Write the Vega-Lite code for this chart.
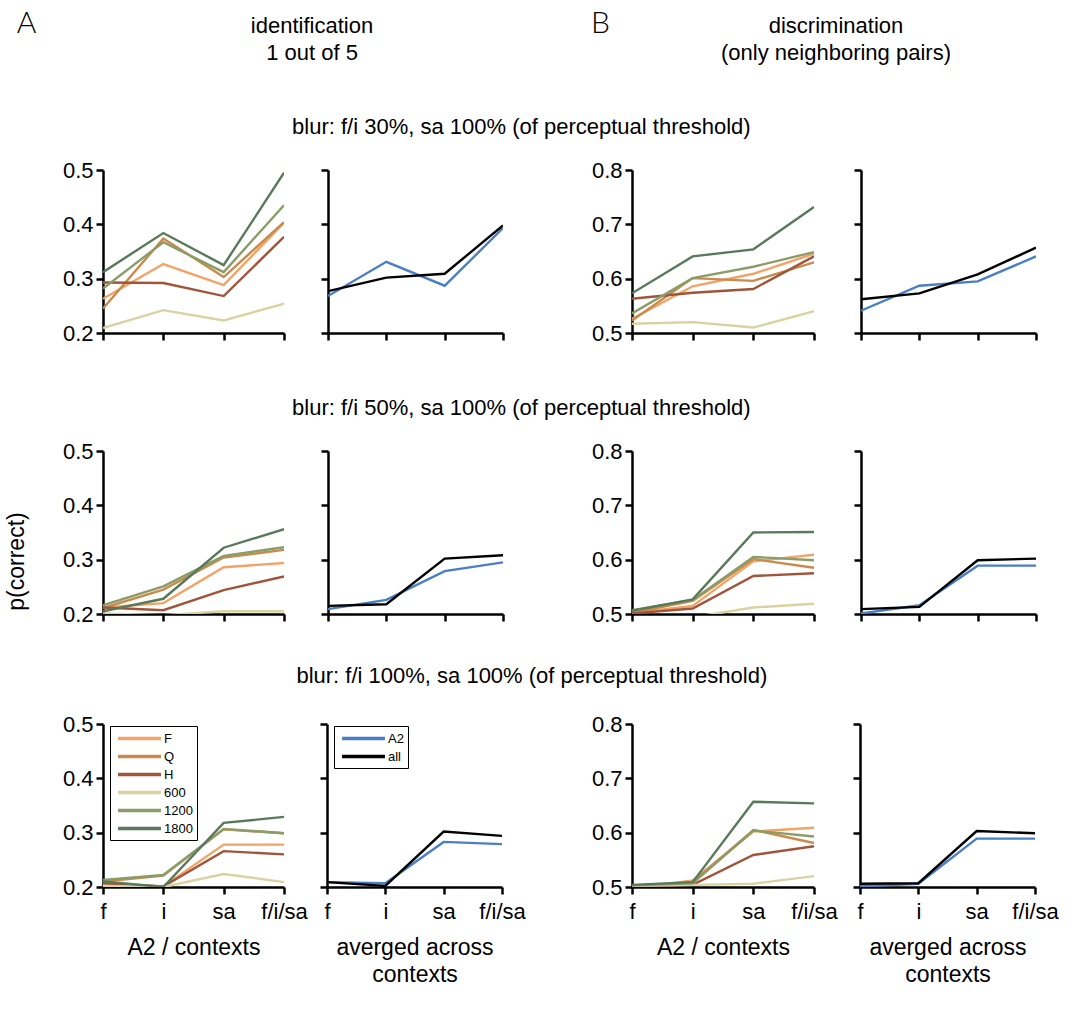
{
"$schema":"https://vega.github.io/schema/vega-lite/v6.json",
"background":"white",
"padding":{"left":5,"top":6,"right":5,"bottom":5},
"config":{
 "font":"Liberation Sans",
 "view":{"stroke":null},
 "axis":{"domainColor":"#000","domainWidth":2.5,"tickColor":"#000","tickWidth":2.5,"tickSize":7,"labelFontSize":22,"labelColor":"#000","labelPadding":3,"labelAngle":0,"titleFontSize":23,"titleFontWeight":"normal","titleColor":"#000","titleLineHeight":27,"grid":false,"labelOverlap":false,"labelFlush":false,"labelBound":false},
 "title":{"fontSize":22,"fontWeight":"normal","color":"#000","anchor":"middle","offset":20},
 "legend":{"strokeColor":"#000","fillColor":"#fff","padding":4,"symbolType":"M-3.3,0H3.3","symbolSize":169,"symbolStrokeWidth":3.5,"symbolOffset":17,"labelOffset":16,"labelFontSize":13,"labelColor":"#000","rowPadding":2,"title":null}
},
"datasets":{
"id30c":[
{"s":"F","x":"f","p":0.263},{"s":"F","x":"i","p":0.327},{"s":"F","x":"sa","p":0.288},{"s":"F","x":"f/i/sa","p":0.403},
{"s":"Q","x":"f","p":0.245},{"s":"Q","x":"i","p":0.374},{"s":"Q","x":"sa","p":0.303},{"s":"Q","x":"f/i/sa","p":0.404},
{"s":"H","x":"f","p":0.293},{"s":"H","x":"i","p":0.292},{"s":"H","x":"sa","p":0.268},{"s":"H","x":"f/i/sa","p":0.377},
{"s":"600","x":"f","p":0.209},{"s":"600","x":"i","p":0.242},{"s":"600","x":"sa","p":0.223},{"s":"600","x":"f/i/sa","p":0.254},
{"s":"1200","x":"f","p":0.282},{"s":"1200","x":"i","p":0.367},{"s":"1200","x":"sa","p":0.312},{"s":"1200","x":"f/i/sa","p":0.435},
{"s":"1800","x":"f","p":0.312},{"s":"1800","x":"i","p":0.384},{"s":"1800","x":"sa","p":0.325},{"s":"1800","x":"f/i/sa","p":0.495}],
"id30a":[
{"s":"A2","x":"f","p":0.268},{"s":"A2","x":"i","p":0.331},{"s":"A2","x":"sa","p":0.287},{"s":"A2","x":"f/i/sa","p":0.393},
{"s":"all","x":"f","p":0.277},{"s":"all","x":"i","p":0.302},{"s":"all","x":"sa","p":0.309},{"s":"all","x":"f/i/sa","p":0.398}],
"di30c":[
{"s":"F","x":"f","p":0.526},{"s":"F","x":"i","p":0.586},{"s":"F","x":"sa","p":0.609},{"s":"F","x":"f/i/sa","p":0.646},
{"s":"Q","x":"f","p":0.523},{"s":"Q","x":"i","p":0.601},{"s":"Q","x":"sa","p":0.596},{"s":"Q","x":"f/i/sa","p":0.630},
{"s":"H","x":"f","p":0.563},{"s":"H","x":"i","p":0.574},{"s":"H","x":"sa","p":0.581},{"s":"H","x":"f/i/sa","p":0.641},
{"s":"600","x":"f","p":0.517},{"s":"600","x":"i","p":0.520},{"s":"600","x":"sa","p":0.510},{"s":"600","x":"f/i/sa","p":0.540},
{"s":"1200","x":"f","p":0.536},{"s":"1200","x":"i","p":0.601},{"s":"1200","x":"sa","p":0.622},{"s":"1200","x":"f/i/sa","p":0.649},
{"s":"1800","x":"f","p":0.573},{"s":"1800","x":"i","p":0.641},{"s":"1800","x":"sa","p":0.654},{"s":"1800","x":"f/i/sa","p":0.732}],
"di30a":[
{"s":"A2","x":"f","p":0.541},{"s":"A2","x":"i","p":0.587},{"s":"A2","x":"sa","p":0.595},{"s":"A2","x":"f/i/sa","p":0.641},
{"s":"all","x":"f","p":0.562},{"s":"all","x":"i","p":0.573},{"s":"all","x":"sa","p":0.608},{"s":"all","x":"f/i/sa","p":0.657}],
"id50c":[
{"s":"F","x":"f","p":0.212},{"s":"F","x":"i","p":0.220},{"s":"F","x":"sa","p":0.286},{"s":"F","x":"f/i/sa","p":0.294},
{"s":"Q","x":"f","p":0.211},{"s":"Q","x":"i","p":0.245},{"s":"Q","x":"sa","p":0.304},{"s":"Q","x":"f/i/sa","p":0.318},
{"s":"H","x":"f","p":0.212},{"s":"H","x":"i","p":0.207},{"s":"H","x":"sa","p":0.244},{"s":"H","x":"f/i/sa","p":0.269},
{"s":"600","x":"f","p":0.201},{"s":"600","x":"i","p":0.198},{"s":"600","x":"sa","p":0.205},{"s":"600","x":"f/i/sa","p":0.205},
{"s":"1200","x":"f","p":0.216},{"s":"1200","x":"i","p":0.251},{"s":"1200","x":"sa","p":0.307},{"s":"1200","x":"f/i/sa","p":0.323},
{"s":"1800","x":"f","p":0.205},{"s":"1800","x":"i","p":0.228},{"s":"1800","x":"sa","p":0.322},{"s":"1800","x":"f/i/sa","p":0.356}],
"id50a":[
{"s":"A2","x":"f","p":0.209},{"s":"A2","x":"i","p":0.226},{"s":"A2","x":"sa","p":0.279},{"s":"A2","x":"f/i/sa","p":0.295},
{"s":"all","x":"f","p":0.215},{"s":"all","x":"i","p":0.218},{"s":"all","x":"sa","p":0.302},{"s":"all","x":"f/i/sa","p":0.308}],
"di50c":[
{"s":"F","x":"f","p":0.502},{"s":"F","x":"i","p":0.515},{"s":"F","x":"sa","p":0.597},{"s":"F","x":"f/i/sa","p":0.609},
{"s":"Q","x":"f","p":0.502},{"s":"Q","x":"i","p":0.524},{"s":"Q","x":"sa","p":0.601},{"s":"Q","x":"f/i/sa","p":0.585},
{"s":"H","x":"f","p":0.501},{"s":"H","x":"i","p":0.510},{"s":"H","x":"sa","p":0.570},{"s":"H","x":"f/i/sa","p":0.575},
{"s":"600","x":"f","p":0.490},{"s":"600","x":"i","p":0.494},{"s":"600","x":"sa","p":0.512},{"s":"600","x":"f/i/sa","p":0.519},
{"s":"1200","x":"f","p":0.507},{"s":"1200","x":"i","p":0.526},{"s":"1200","x":"sa","p":0.605},{"s":"1200","x":"f/i/sa","p":0.599},
{"s":"1800","x":"f","p":0.506},{"s":"1800","x":"i","p":0.527},{"s":"1800","x":"sa","p":0.650},{"s":"1800","x":"f/i/sa","p":0.651}],
"di50a":[
{"s":"A2","x":"f","p":0.501},{"s":"A2","x":"i","p":0.516},{"s":"A2","x":"sa","p":0.589},{"s":"A2","x":"f/i/sa","p":0.589},
{"s":"all","x":"f","p":0.509},{"s":"all","x":"i","p":0.513},{"s":"all","x":"sa","p":0.599},{"s":"all","x":"f/i/sa","p":0.602}],
"id100c":[
{"s":"F","x":"f","p":0.206},{"s":"F","x":"i","p":0.201},{"s":"F","x":"sa","p":0.278},{"s":"F","x":"f/i/sa","p":0.278},
{"s":"Q","x":"f","p":0.210},{"s":"Q","x":"i","p":0.221},{"s":"Q","x":"sa","p":0.306},{"s":"Q","x":"f/i/sa","p":0.299},
{"s":"H","x":"f","p":0.207},{"s":"H","x":"i","p":0.201},{"s":"H","x":"sa","p":0.266},{"s":"H","x":"f/i/sa","p":0.260},
{"s":"600","x":"f","p":0.202},{"s":"600","x":"i","p":0.200},{"s":"600","x":"sa","p":0.224},{"s":"600","x":"f/i/sa","p":0.209},
{"s":"1200","x":"f","p":0.213},{"s":"1200","x":"i","p":0.222},{"s":"1200","x":"sa","p":0.307},{"s":"1200","x":"f/i/sa","p":0.299},
{"s":"1800","x":"f","p":0.210},{"s":"1800","x":"i","p":0.200},{"s":"1800","x":"sa","p":0.318},{"s":"1800","x":"f/i/sa","p":0.329}],
"id100a":[
{"s":"A2","x":"f","p":0.209},{"s":"A2","x":"i","p":0.207},{"s":"A2","x":"sa","p":0.283},{"s":"A2","x":"f/i/sa","p":0.279},
{"s":"all","x":"f","p":0.209},{"s":"all","x":"i","p":0.202},{"s":"all","x":"sa","p":0.302},{"s":"all","x":"f/i/sa","p":0.294}],
"di100c":[
{"s":"F","x":"f","p":0.497},{"s":"F","x":"i","p":0.512},{"s":"F","x":"sa","p":0.602},{"s":"F","x":"f/i/sa","p":0.609},
{"s":"Q","x":"f","p":0.501},{"s":"Q","x":"i","p":0.509},{"s":"Q","x":"sa","p":0.605},{"s":"Q","x":"f/i/sa","p":0.581},
{"s":"H","x":"f","p":0.501},{"s":"H","x":"i","p":0.504},{"s":"H","x":"sa","p":0.559},{"s":"H","x":"f/i/sa","p":0.575},
{"s":"600","x":"f","p":0.502},{"s":"600","x":"i","p":0.504},{"s":"600","x":"sa","p":0.506},{"s":"600","x":"f/i/sa","p":0.520},
{"s":"1200","x":"f","p":0.503},{"s":"1200","x":"i","p":0.507},{"s":"1200","x":"sa","p":0.604},{"s":"1200","x":"f/i/sa","p":0.593},
{"s":"1800","x":"f","p":0.504},{"s":"1800","x":"i","p":0.509},{"s":"1800","x":"sa","p":0.657},{"s":"1800","x":"f/i/sa","p":0.654}],
"di100a":[
{"s":"A2","x":"f","p":0.501},{"s":"A2","x":"i","p":0.506},{"s":"A2","x":"sa","p":0.589},{"s":"A2","x":"f/i/sa","p":0.589},
{"s":"all","x":"f","p":0.506},{"s":"all","x":"i","p":0.507},{"s":"all","x":"sa","p":0.603},{"s":"all","x":"f/i/sa","p":0.599}]
},
"spacing":53,
"vconcat":[
 {"spacing":52,"vconcat":[
 {"hconcat":[
  {"width":418,"height":40,"title":{"text":"A","orient":"left","angle":0,"anchor":"end","frame":"group","align":"right","baseline":"top","offset":47,"fontSize":30,"font":"Lato","fontWeight":300,"dy":3},
   "data":{"values":[{"t":"identification\n1 out of 5"}]},"mark":{"type":"text","fontSize":22,"lineBreak":"\n","lineHeight":27},"encoding":{"text":{"field":"t","type":"nominal"}}},
  {"width":414,"height":40,"title":{"text":"B","orient":"left","angle":0,"anchor":"end","frame":"group","align":"right","baseline":"top","offset":0,"fontSize":30,"font":"Lato","fontWeight":300,"dy":3},
   "data":{"values":[{"t":"discrimination\n(only neighboring pairs)"}]},"mark":{"type":"text","fontSize":22,"lineBreak":"\n","lineHeight":27},"encoding":{"text":{"field":"t","type":"nominal"}}}
 ],"spacing":70},
 {"title":{"text":"blur: f/i 30%, sa 100% (of perceptual threshold)"},"spacing":86,"resolve":{"scale":{"color":"independent","x":"independent","y":"independent"}},"hconcat":[
  {"spacing":33,"resolve":{"scale":{"color":"independent","y":"independent"}},"hconcat":[
   {"width":181,"height":163,"data":{"name":"id30c"},"mark":{"type":"line","strokeWidth":2.4,"clip":true},
    "encoding":{"x":{"field":"x","type":"ordinal","sort":["f","i","sa","f/i/sa"],"scale":{"padding":0},"axis":{"labels":false,"title":null}},
     "y":{"field":"p","type":"quantitative","scale":{"domain":[0.2,0.5],"nice":false,"zero":false},"axis":{"values":[0.2,0.3,0.4,0.5],"format":".1f","title":" ","titlePadding":34}},
     "color":{"field":"s","type":"nominal","scale":{"domain":["F","Q","H","600","1200","1800"],"range":["#f2a466","#c98a4b","#a0543a","#d8d3a0","#8b9c69","#587a5b"]},"legend":null}}},
   {"width":175,"height":163,"data":{"name":"id30a"},"mark":{"type":"line","strokeWidth":2.4,"clip":true},
    "encoding":{"x":{"field":"x","type":"ordinal","sort":["f","i","sa","f/i/sa"],"scale":{"padding":0},"axis":{"labels":false,"title":null}},
     "y":{"field":"p","type":"quantitative","scale":{"domain":[0.2,0.5],"nice":false,"zero":false},"axis":{"values":[0.2,0.3,0.4,0.5],"labels":false,"title":null}},
     "color":{"field":"s","type":"nominal","scale":{"domain":["A2","all"],"range":["#4a7ec6","#000000"]},"legend":null}}}
  ]},
  {"spacing":36,"resolve":{"scale":{"color":"independent","y":"independent"}},"hconcat":[
   {"width":182,"height":163,"data":{"name":"di30c"},"mark":{"type":"line","strokeWidth":2.4,"clip":true},
    "encoding":{"x":{"field":"x","type":"ordinal","sort":["f","i","sa","f/i/sa"],"scale":{"padding":0},"axis":{"labels":false,"title":null}},
     "y":{"field":"p","type":"quantitative","scale":{"domain":[0.5,0.8],"nice":false,"zero":false},"axis":{"values":[0.5,0.6,0.7,0.8],"format":".1f","title":null}},
     "color":{"field":"s","type":"nominal","scale":{"domain":["F","Q","H","600","1200","1800"],"range":["#f2a466","#c98a4b","#a0543a","#d8d3a0","#8b9c69","#587a5b"]},"legend":null}}},
   {"width":175,"height":163,"data":{"name":"di30a"},"mark":{"type":"line","strokeWidth":2.4,"clip":true},
    "encoding":{"x":{"field":"x","type":"ordinal","sort":["f","i","sa","f/i/sa"],"scale":{"padding":0},"axis":{"labels":false,"title":null}},
     "y":{"field":"p","type":"quantitative","scale":{"domain":[0.5,0.8],"nice":false,"zero":false},"axis":{"values":[0.5,0.6,0.7,0.8],"labels":false,"title":null}},
     "color":{"field":"s","type":"nominal","scale":{"domain":["A2","all"],"range":["#4a7ec6","#000000"]},"legend":null}}}
  ]}
 ]}
 ]},
 {"spacing":40,"vconcat":[
 {"title":{"text":"blur: f/i 50%, sa 100% (of perceptual threshold)"},"spacing":86,"resolve":{"scale":{"color":"independent","x":"independent","y":"independent"}},"hconcat":[
  {"spacing":33,"resolve":{"scale":{"color":"independent","y":"independent"}},"hconcat":[
   {"width":181,"height":163,"data":{"name":"id50c"},"mark":{"type":"line","strokeWidth":2.4,"clip":true},
    "encoding":{"x":{"field":"x","type":"ordinal","sort":["f","i","sa","f/i/sa"],"scale":{"padding":0},"axis":{"labels":false,"title":null}},
     "y":{"field":"p","type":"quantitative","scale":{"domain":[0.2,0.5],"nice":false,"zero":false},"axis":{"values":[0.2,0.3,0.4,0.5],"format":".1f","title":"p(correct)","titlePadding":34,"titleY":110}},
     "color":{"field":"s","type":"nominal","scale":{"domain":["F","Q","H","600","1200","1800"],"range":["#f2a466","#c98a4b","#a0543a","#d8d3a0","#8b9c69","#587a5b"]},"legend":null}}},
   {"width":175,"height":163,"data":{"name":"id50a"},"mark":{"type":"line","strokeWidth":2.4,"clip":true},
    "encoding":{"x":{"field":"x","type":"ordinal","sort":["f","i","sa","f/i/sa"],"scale":{"padding":0},"axis":{"labels":false,"title":null}},
     "y":{"field":"p","type":"quantitative","scale":{"domain":[0.2,0.5],"nice":false,"zero":false},"axis":{"values":[0.2,0.3,0.4,0.5],"labels":false,"title":null}},
     "color":{"field":"s","type":"nominal","scale":{"domain":["A2","all"],"range":["#4a7ec6","#000000"]},"legend":null}}}
  ]},
  {"spacing":36,"resolve":{"scale":{"color":"independent","y":"independent"}},"hconcat":[
   {"width":182,"height":163,"data":{"name":"di50c"},"mark":{"type":"line","strokeWidth":2.4,"clip":true},
    "encoding":{"x":{"field":"x","type":"ordinal","sort":["f","i","sa","f/i/sa"],"scale":{"padding":0},"axis":{"labels":false,"title":null}},
     "y":{"field":"p","type":"quantitative","scale":{"domain":[0.5,0.8],"nice":false,"zero":false},"axis":{"values":[0.5,0.6,0.7,0.8],"format":".1f","title":null}},
     "color":{"field":"s","type":"nominal","scale":{"domain":["F","Q","H","600","1200","1800"],"range":["#f2a466","#c98a4b","#a0543a","#d8d3a0","#8b9c69","#587a5b"]},"legend":null}}},
   {"width":175,"height":163,"data":{"name":"di50a"},"mark":{"type":"line","strokeWidth":2.4,"clip":true},
    "encoding":{"x":{"field":"x","type":"ordinal","sort":["f","i","sa","f/i/sa"],"scale":{"padding":0},"axis":{"labels":false,"title":null}},
     "y":{"field":"p","type":"quantitative","scale":{"domain":[0.5,0.8],"nice":false,"zero":false},"axis":{"values":[0.5,0.6,0.7,0.8],"labels":false,"title":null}},
     "color":{"field":"s","type":"nominal","scale":{"domain":["A2","all"],"range":["#4a7ec6","#000000"]},"legend":null}}}
  ]}
 ]},
 {"title":{"text":"blur: f/i 100%, sa 100% (of perceptual threshold)","offset":25},"spacing":65,"resolve":{"scale":{"color":"independent","x":"independent","y":"independent"}},"hconcat":[
  {"spacing":10,"resolve":{"scale":{"color":"independent","y":"independent"}},"hconcat":[
   {"width":181,"height":163,"data":{"name":"id100c"},"mark":{"type":"line","strokeWidth":2.4,"clip":true},
    "encoding":{"x":{"field":"x","type":"ordinal","sort":["f","i","sa","f/i/sa"],"scale":{"padding":0},"axis":{"labelPadding":7,"title":"A2 / contexts","titlePadding":14}},
     "y":{"field":"p","type":"quantitative","scale":{"domain":[0.2,0.5],"nice":false,"zero":false},"axis":{"values":[0.2,0.3,0.4,0.5],"format":".1f","title":" ","titlePadding":34}},
     "color":{"field":"s","type":"nominal","scale":{"domain":["F","Q","H","600","1200","1800"],"range":["#f2a466","#c98a4b","#a0543a","#d8d3a0","#8b9c69","#587a5b"]},"legend":{"orient":"none","legendX":7,"legendY":2}}}},
   {"width":175,"height":163,"data":{"name":"id100a"},"mark":{"type":"line","strokeWidth":2.4,"clip":true},
    "encoding":{"x":{"field":"x","type":"ordinal","sort":["f","i","sa","f/i/sa"],"scale":{"padding":0},"axis":{"labelPadding":7,"title":["averged across","contexts"],"titlePadding":14}},
     "y":{"field":"p","type":"quantitative","scale":{"domain":[0.2,0.5],"nice":false,"zero":false},"axis":{"values":[0.2,0.3,0.4,0.5],"labels":false,"title":null}},
     "color":{"field":"s","type":"nominal","scale":{"domain":["A2","all"],"range":["#4a7ec6","#000000"]},"legend":{"orient":"none","legendX":7,"legendY":2}}}}
  ]},
  {"spacing":13,"resolve":{"scale":{"color":"independent","y":"independent"}},"hconcat":[
   {"width":182,"height":163,"data":{"name":"di100c"},"mark":{"type":"line","strokeWidth":2.4,"clip":true},
    "encoding":{"x":{"field":"x","type":"ordinal","sort":["f","i","sa","f/i/sa"],"scale":{"padding":0},"axis":{"labelPadding":7,"title":"A2 / contexts","titlePadding":14}},
     "y":{"field":"p","type":"quantitative","scale":{"domain":[0.5,0.8],"nice":false,"zero":false},"axis":{"values":[0.5,0.6,0.7,0.8],"format":".1f","title":null}},
     "color":{"field":"s","type":"nominal","scale":{"domain":["F","Q","H","600","1200","1800"],"range":["#f2a466","#c98a4b","#a0543a","#d8d3a0","#8b9c69","#587a5b"]},"legend":null}}},
   {"width":175,"height":163,"data":{"name":"di100a"},"mark":{"type":"line","strokeWidth":2.4,"clip":true},
    "encoding":{"x":{"field":"x","type":"ordinal","sort":["f","i","sa","f/i/sa"],"scale":{"padding":0},"axis":{"labelPadding":7,"title":["averged across","contexts"],"titlePadding":14}},
     "y":{"field":"p","type":"quantitative","scale":{"domain":[0.5,0.8],"nice":false,"zero":false},"axis":{"values":[0.5,0.6,0.7,0.8],"labels":false,"title":null}},
     "color":{"field":"s","type":"nominal","scale":{"domain":["A2","all"],"range":["#4a7ec6","#000000"]},"legend":null}}}
  ]}
 ]}
 ]}
]
}
